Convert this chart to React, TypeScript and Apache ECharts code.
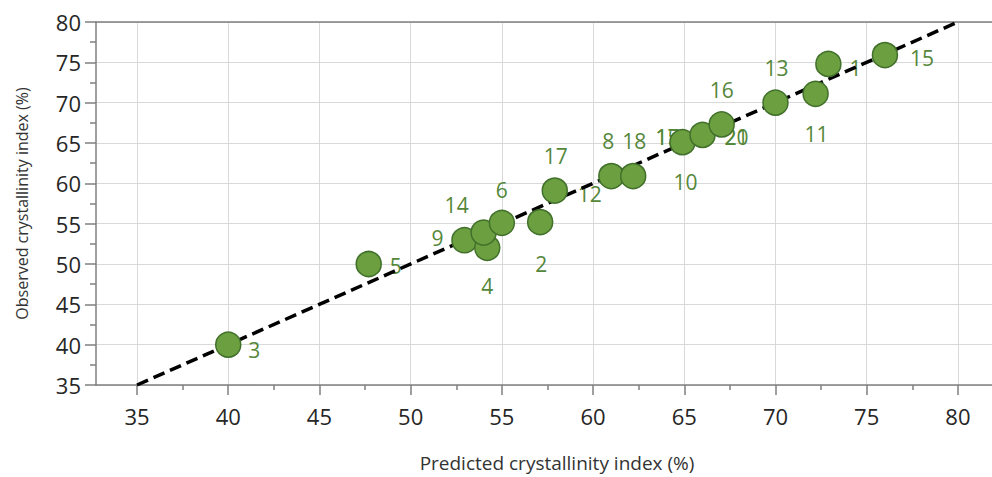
import React, { useEffect, useRef } from "react";
import * as echarts from "echarts";

// Sample points (predicted %, observed %)
const predicted = [40.0, 47.7, 52.95, 54.2, 54.0, 55.0, 57.1, 57.9, 61.0, 62.2, 64.9, 66.0, 67.05, 70.0, 72.2, 72.9, 76.0];
const observed = [40.0, 50.0, 52.95, 52.0, 53.9, 55.1, 55.2, 59.1, 60.9, 60.9, 65.1, 66.0, 67.3, 70.0, 71.1, 74.8, 75.9];

// Sample labels: text and the index of the point they belong to
const labelTexts = ["3", "5", "9", "4", "14", "6", "2", "17", "12", "8", "18", "10", "15", "17", "20", "21", "16", "13", "11", "1", "15"];
const labelPoint = [0, 1, 2, 3, 4, 5, 6, 7, 7, 8, 9, 10, 11, 11, 11, 11, 12, 13, 14, 15, 16];
// label offsets in pixels (layout)
const labelOffsets: [number, number][] = [
  [26, 5], [27, 2], [-27, -2], [0, 38], [-27, -28], [0, -33], [1, 42], [1, -35], [35, 3],
  [-3, -35], [1, -35], [3, 40], [-35, 2], [-35, 2], [34, 2], [34, 2], [0, -34], [1, -35], [1, 40], [27, 4], [37, 3],
];

const xTicks = [35, 40, 45, 50, 55, 60, 65, 70, 75, 80];
const xMinorTicks = [37.5, 42.5, 47.5, 52.5, 57.5, 62.5, 67.5, 72.5, 77.5];
const identityLine = [[35, 35], [80, 80]];

const FONT = "'Open Sans', sans-serif";
const AXIS_COLOR = "#7f7f7f";
const GRID_COLOR = "#d9d9d9";
const LABEL_GREEN = "#55873a";

export default function App() {
  const ref = useRef<HTMLDivElement>(null);
  useEffect(() => {
    if (!ref.current) return;
    const chart = echarts.init(ref.current, null, { renderer: "svg" });
    const xMin = 32.75;
    const xMax = 81.87;
    const points = predicted.map((p, i) => [p, observed[i]]);
    const labelData = labelTexts.map((t, k) => ({
      value: [predicted[labelPoint[k]], observed[labelPoint[k]]],
      label: {
        show: true,
        formatter: t,
        position: "inside",
        offset: labelOffsets[k],
      },
    }));
    chart.setOption({
      animation: false,
      backgroundColor: "#ffffff",
      grid: { left: 96, right: 0, top: 22, bottom: 89, containLabel: false },
      xAxis: [
        {
          type: "value",
          min: xMin,
          max: xMax,
          name: "Predicted crystallinity index (%)",
          nameLocation: "middle",
          nameGap: 68,
          nameTextStyle: { fontFamily: FONT, fontSize: 19, color: "#333333", padding: [0, 0, 0, 26] },
          axisLine: { show: true, lineStyle: { color: AXIS_COLOR, width: 1.5 } },
          axisTick: { show: true, customValues: xTicks, length: 10, lineStyle: { color: AXIS_COLOR, width: 1.5 } },
          axisLabel: { customValues: xTicks, fontFamily: FONT, fontSize: 22, color: "#262626", margin: 20 },
          splitLine: { show: true, lineStyle: { color: GRID_COLOR, width: 1 } },
        },
        {
          type: "value",
          min: xMin,
          max: xMax,
          position: "bottom",
          axisLine: { show: false },
          axisTick: { show: true, customValues: xMinorTicks, length: 5, lineStyle: { color: AXIS_COLOR, width: 1.5 } },
          axisLabel: { show: false },
          splitLine: { show: false },
        },
        {
          type: "value",
          min: xMin,
          max: xMax,
          position: "top",
          axisLine: { show: true, lineStyle: { color: AXIS_COLOR, width: 1.5 } },
          axisTick: { show: false },
          axisLabel: { show: false },
          splitLine: { show: false },
        },
      ],
      yAxis: {
        type: "value",
        min: 35,
        max: 80,
        interval: 5,
        name: "Observed crystallinity index (%)",
        nameLocation: "middle",
        nameGap: 66,
        nameTextStyle: { fontFamily: FONT, fontSize: 16, color: "#333333" },
        axisLine: { show: true, lineStyle: { color: AXIS_COLOR, width: 1.5 } },
        axisTick: { show: true, length: 11, lineStyle: { color: AXIS_COLOR, width: 1.5 } },
        minorTick: { show: true, splitNumber: 2, length: 6, lineStyle: { color: AXIS_COLOR, width: 1.5 } },
        axisLabel: { fontFamily: FONT, fontSize: 22, color: "#262626", margin: 15 },
        splitLine: { show: true, lineStyle: { color: GRID_COLOR, width: 1 } },
      },
      series: [
        {
          type: "scatter",
          z: 1,
          symbolSize: 0,
          data: labelData,
          itemStyle: { opacity: 1 },
          label: { fontFamily: FONT, fontSize: 21, color: LABEL_GREEN },
          silent: true,
        },
        {
          type: "line",
          z: 2,
          data: identityLine,
          symbol: "none",
          lineStyle: { color: "#000000", width: 3.5, type: [12, 6] },
          silent: true,
        },
        {
          type: "scatter",
          z: 3,
          data: points,
          symbol: "circle",
          symbolSize: 25,
          itemStyle: { color: "#6b9f40", borderColor: "#41702a", borderWidth: 1.5, opacity: 1 },
        },
      ],
    });
    return () => chart.dispose();
  }, []);
  return (
    <div
      ref={ref}
      style={{ position: "fixed", left: 0, top: 0, width: 992, height: 477, background: "#fff" }}
    />
  );
}
